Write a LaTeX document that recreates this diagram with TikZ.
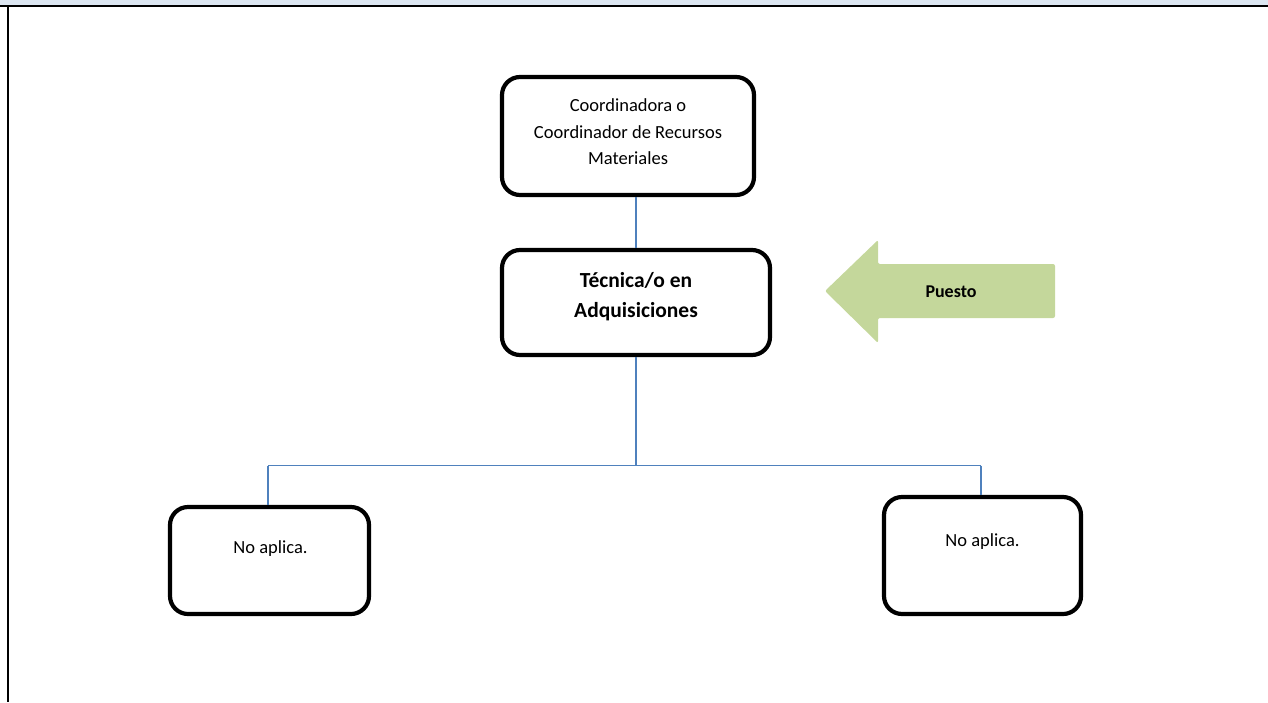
\documentclass[tikz,border=0pt]{standalone}
\usepackage{fontspec}
\setmainfont{Carlito}
\definecolor{bandblue}{RGB}{220,230,241}
\definecolor{linkblue}{RGB}{79,129,189}
\definecolor{arrowgreen}{RGB}{196,215,155}
\tikzset{
  orgbox/.style={draw=black, line width=4.2pt, rounded corners=18pt, fill=white, inner sep=0pt},
  txtnormal/.style={font=\fontsize{18.5}{26.5}\selectfont, align=center, inner sep=0pt},
  txtbold/.style={font=\fontsize{21.5}{30}\selectfont\bfseries, align=center, inner sep=0pt},
  link/.style={draw=linkblue, line width=1.6pt},
}
\begin{document}
\begin{tikzpicture}[x=1pt,y=-1pt]
\useasboundingbox (0,0) rectangle (1268,702);
% page frame
\fill[bandblue] (0,0) rectangle (1268,4.5);
\draw[line width=2pt] (0,5.5) -- (1268,5.5);
\draw[line width=2pt] (8,5.5) -- (8,702);

% boxes
\node[orgbox, minimum width=252pt, minimum height=118pt] (coord) at (628,136) {};
\node[orgbox, minimum width=268pt, minimum height=105pt] (tec) at (636,302.5) {};
\node[orgbox, minimum width=199pt, minimum height=107pt] (na1) at (269.5,560.5) {};
\node[orgbox, minimum width=197pt, minimum height=117pt] (na2) at (982.5,555.5) {};

% texts
\node[txtnormal] (coordtxt) at (628,132) {Coordinadora o\\Coordinador de Recursos\\Materiales};
\node[txtbold] (tectxt) at (636,297) {Técnica/o en\\Adquisiciones};
\node[txtnormal, anchor=base] (na1txt) at (270.5,553) {No aplica.};
\node[txtnormal, anchor=base] (na2txt) at (982.5,546.5) {No aplica.};

% arrow "Puesto"
\fill[arrowgreen, rounded corners=2pt] (825,291) -- (878,240) -- (878,264) -- (1055,264) -- (1055,318) -- (878,318) -- (878,343) -- cycle;
\node[font=\fontsize{18}{22}\selectfont\bfseries, anchor=base, inner sep=0pt] (puesto) at (951,297) {Puesto};

% connectors
\coordinate (junc) at (636,465.5);
\coordinate (jl) at (268,465.5);
\coordinate (jr) at (981,465.5);
\draw[link] (coord.south -| tec.north) -- (tec.north);
\draw[link] (tec.south) -- (junc);
\draw[link] (jl) -- (jr);
\draw[link] (jl) -- (jl |- na1.north);
\draw[link] (jr) -- (jr |- na2.north);
\end{tikzpicture}
\end{document}
